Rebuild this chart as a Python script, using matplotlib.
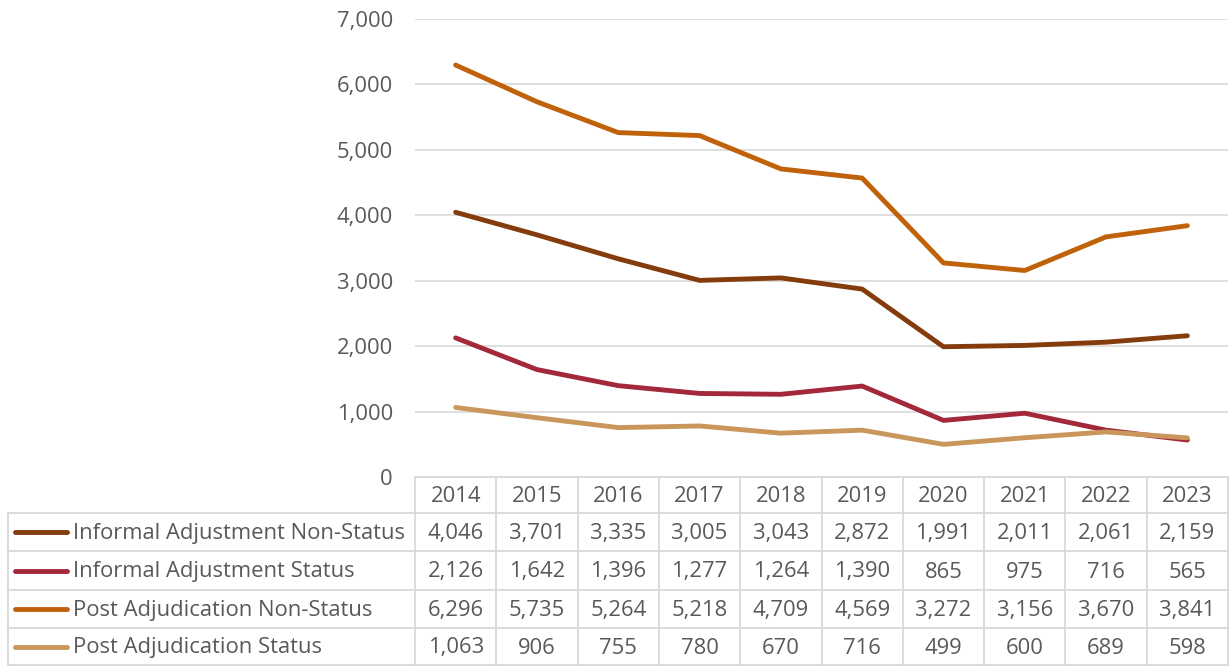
import matplotlib
matplotlib.use("Agg")
import matplotlib.pyplot as plt
import matplotlib.transforms as mtransforms

years = ["2014", "2015", "2016", "2017", "2018", "2019", "2020", "2021", "2022", "2023"]
series_names = [
    "Informal Adjustment Non-Status",
    "Informal Adjustment Status",
    "Post Adjudication Non-Status",
    "Post Adjudication Status",
]
ia_non_status = [4046, 3701, 3335, 3005, 3043, 2872, 1991, 2011, 2061, 2159]
ia_status = [2126, 1642, 1396, 1277, 1264, 1390, 865, 975, 716, 565]
pa_non_status = [6296, 5735, 5264, 5218, 4709, 4569, 3272, 3156, 3670, 3841]
pa_status = [1063, 906, 755, 780, 670, 716, 499, 600, 689, 598]
y_ticks = [0, 1000, 2000, 3000, 4000, 5000, 6000, 7000]

series_values = [ia_non_status, ia_status, pa_non_status, pa_status]
colors = ["#843C0C", "#A2283A", "#C0620A", "#C9975B"]

plt.rcParams['font.family'] = ['Open Sans', 'DejaVu Sans']
text_color = "#595959"
grid_color = "#D9D9D9"
fs = 15.8

W, H = 1230, 666
fig = plt.figure(figsize=(W / 100, H / 100), dpi=100)

x_left, x_right = 415, 1228
y_top, y_zero = 19, 477
ax = fig.add_axes([x_left / W, 1 - y_zero / H, (x_right - x_left) / W, (y_zero - y_top) / H])
xs = list(range(len(years)))
for vals, c in zip(series_values, colors):
    ax.plot(xs, vals, color=c, lw=3.5, solid_joinstyle="round", solid_capstyle="round", zorder=3)
ax.set_xlim(-0.5, len(years) - 0.5)
ax.set_ylim(0, 7000)
ax.set_yticks(y_ticks)
ax.set_yticklabels([f"{v:,}" for v in y_ticks], color=text_color, fontsize=fs)
ax.tick_params(axis="y", length=0, pad=16)
ax.set_xticks([])
ax.grid(axis="y", color=grid_color, lw=1.2)
ax.set_axisbelow(True)
for s in ax.spines.values():
    s.set_visible(False)

# overlay axes in pixel coordinates for the data table
ov = fig.add_axes([0, 0, 1, 1], facecolor="none")
ov.set_xlim(0, W)
ov.set_ylim(H, 0)
ov.axis("off")

col_w = (x_right - x_left) / len(years)
row_edges = [477, 513, 551, 590, 628, 665]
tbl_left = 8
lw_t = 1.3
ov.plot([x_left, x_right], [row_edges[0], row_edges[0]], color=grid_color, lw=lw_t)
for yy in row_edges[1:]:
    ov.plot([tbl_left, x_right], [yy, yy], color=grid_color, lw=lw_t)
for k in range(len(years) + 1):
    xx = x_left + k * col_w
    ov.plot([xx, xx], [row_edges[0], row_edges[-1]], color=grid_color, lw=lw_t)
ov.plot([tbl_left, tbl_left], [row_edges[1], row_edges[-1]], color=grid_color, lw=lw_t)

blend = mtransforms.blended_transform_factory(ax.transData, ov.transData)
hy = (row_edges[0] + row_edges[1]) / 2
for i, yr in enumerate(years):
    ov.text(i, hy + 1.5, yr, transform=blend, ha="center", va="center", fontsize=fs, color=text_color)

for r, (name, vals, c) in enumerate(zip(series_names, series_values, colors)):
    cy = (row_edges[r + 1] + row_edges[r + 2]) / 2 + 1.5
    ov.plot([15, 67], [cy - 1.5, cy - 1.5], color=c, lw=3.5, solid_capstyle="round")
    ov.text(73, cy, name, ha="left", va="center", fontsize=fs, color=text_color)
    for i, v in enumerate(vals):
        ov.text(i, cy, f"{v:,}", transform=blend, ha="center", va="center", fontsize=fs, color=text_color)

fig.savefig("out.png", dpi=100)
